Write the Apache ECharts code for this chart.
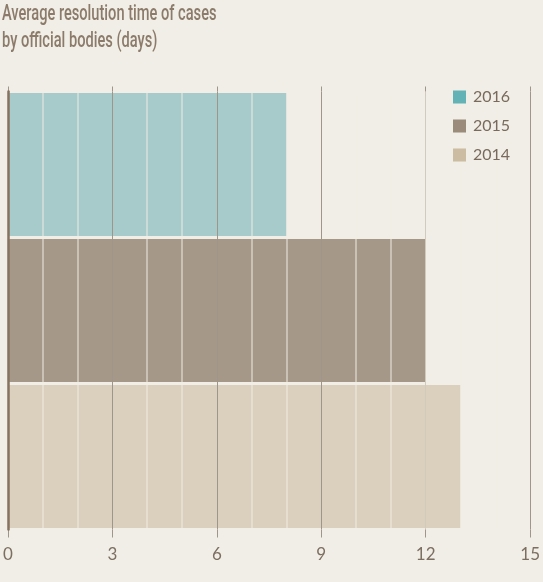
<!DOCTYPE html>
<html><head><meta charset="utf-8">
<script src="https://cdn.jsdelivr.net/npm/echarts@6/dist/echarts.min.js"></script>
<style>html,body{margin:0;padding:0;background:#f0eee6;}#c{width:543px;height:582px;}</style>
</head><body><div id="c"></div>
<script>
const titleText = "Average resolution time of cases\nby official bodies (days)";
const categories = ["2016", "2015", "2014"];
const values = [8, 12, 13];
const barColors = ["#a6cbca", "#a69888", "#dbcfbe"];
const legendColors = ["#63b2b6", "#9a8b7b", "#cbbca2"];
const xMin = 0, xMax = 15, xInterval = 3;

const chart = echarts.init(document.getElementById('c'), null, {renderer: 'canvas'});
const lineColor = '#a0958a';
const splitColors = ['#a0958a','#a0958a','#a0958a','#a0958a','#d2cabd','#a0958a'];
chart.setOption({
  backgroundColor: '#f0eee6',
  animation: false,
  graphic: [{
    type: 'text', x: 2, y: 1, scaleX: 0.665, scaleY: 1, silent: true,
    style: {text: titleText, fontFamily: 'Roboto', fontSize: 22, fontWeight: 500, fill: '#8c7b6b', lineHeight: 27}
  }],
  legend: {
    orient: 'vertical', left: 453, top: 89, padding: 0, itemWidth: 13, itemHeight: 13, itemGap: 13, z: 20,
    icon: 'rect',
    itemStyle: {borderWidth: 0},
    textStyle: {fontFamily: 'Lato', fontSize: 16, color: '#7a6a5c', padding: [0,0,0,2]},
    data: categories.map((c, i) => ({name: c, icon: 'rect', itemStyle: {color: legendColors[i], borderWidth: 0}}))
  },
  grid: {left: 6, right: 10, top: 91.5, height: 438, containLabel: false},
  xAxis: [{
    type: 'value', min: xMin, max: xMax, interval: xInterval, position: 'bottom', z: 5,
    axisLine: {show: false},
    axisTick: {show: true, length: 8, lineStyle: {color: lineColor}},
    axisLabel: {margin: 17, fontFamily: 'Lato', fontSize: 17, color: '#7d6e62'},
    splitLine: {show: true, lineStyle: {color: splitColors, width: 1}},
    minorTick: {show: false, splitNumber: 3},
    minorSplitLine: {show: true, lineStyle: {color: 'rgba(242,239,231,0.65)', width: 1.5}}
  }, {
    type: 'value', min: xMin, max: xMax, interval: xInterval, position: 'top', z: 5,
    axisLine: {show: false},
    axisTick: {show: true, length: 5, lineStyle: {color: lineColor}},
    axisLabel: {show: false},
    splitLine: {show: false}
  }],
  yAxis: {
    type: 'category', data: categories, inverse: true, z: 6,
    axisLine: {show: true, lineStyle: {color: '#86725f', width: 2.5}},
    axisTick: {show: false}, axisLabel: {show: false}, splitLine: {show: false}
  },
  series: categories.map((c, i) => ({
    name: c, type: 'bar', stack: 'all', barCategoryGap: '2%', z: 2,
    itemStyle: {color: barColors[i], borderWidth: 0},
    data: categories.map((cc, j) => j === i ? values[i] : null)
  }))
});
</script></body></html>
